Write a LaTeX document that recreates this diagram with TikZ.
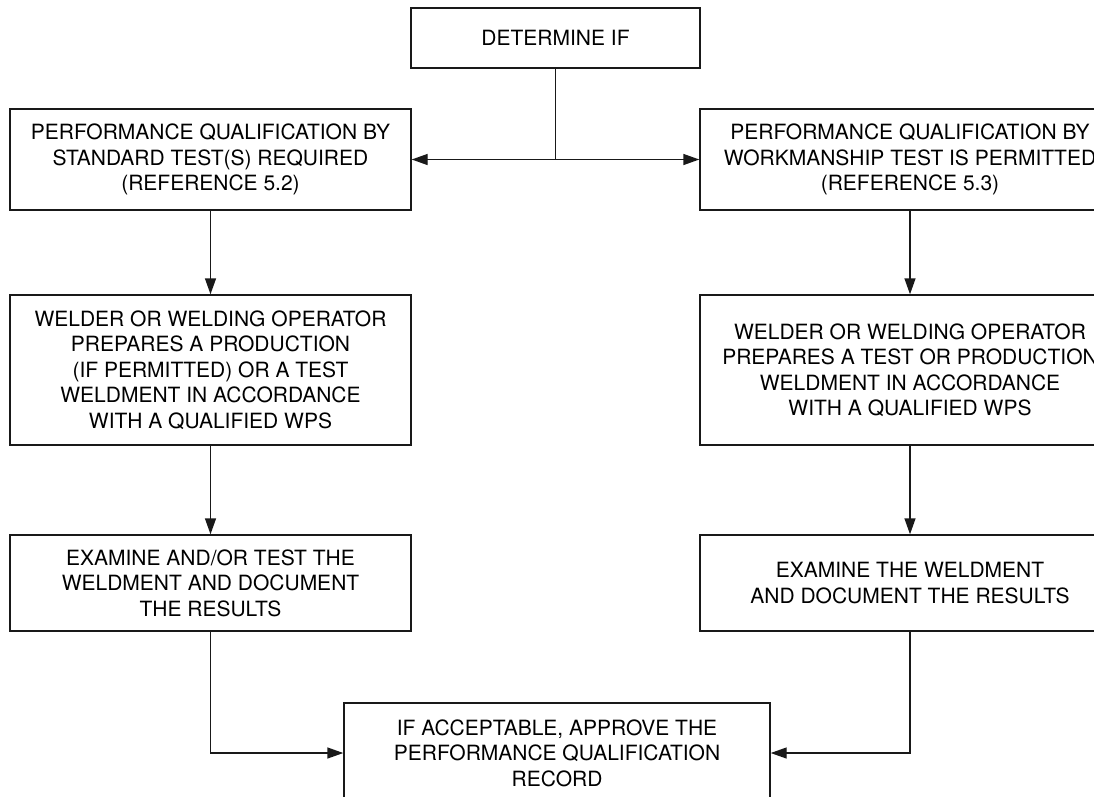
\documentclass[tikz,border=0pt]{standalone}
\usepackage{fontspec}
\setmainfont{TeX Gyre Heros}
\usetikzlibrary{arrows.meta}

\begin{document}
\begin{tikzpicture}[x=1pt, y=-1pt,
    procbox/.style={rectangle, draw=black!90, line width=1.4pt, fill=white, inner sep=0pt, align=center, font=\fontsize{21}{25.5}\selectfont},
    flow/.style={-{Triangle[length=16pt,width=11pt]}, line width=1.4pt, draw=black!90}]
            \useasboundingbox (0,0) rectangle (1094,796);
            \clip (0,0) rectangle (1094,796);

            \node[procbox, minimum width=289pt, minimum height=60pt] (det) at (555.5,38) {DETERMINE IF};
            \node[procbox, minimum width=401pt, minimum height=101pt] (stdtest) at (210.5,159.5) {PERFORMANCE QUALIFICATION BY\\STANDARD TEST(S) REQUIRED\\(REFERENCE 5.2)};
            \node[procbox, minimum width=420pt, minimum height=101pt] (wmtest) at (910,159.5) {PERFORMANCE QUALIFICATION BY\\WORKMANSHIP TEST IS PERMITTED\\(REFERENCE 5.3)};
            \node[procbox, minimum width=401pt, minimum height=150pt] (stdweld) at (210.5,370) {WELDER OR WELDING OPERATOR\\PREPARES A PRODUCTION\\(IF PERMITTED) OR A TEST\\WELDMENT IN ACCORDANCE\\WITH A QUALIFIED WPS};
            \node[procbox, minimum width=420pt, minimum height=150pt] (wmweld) at (910,370) {WELDER OR WELDING OPERATOR\\PREPARES A TEST OR PRODUCTION\\WELDMENT IN ACCORDANCE\\WITH A QUALIFIED WPS};
            \node[procbox, minimum width=401pt, minimum height=96pt] (stdexam) at (210.5,583) {EXAMINE AND/OR TEST THE\\WELDMENT AND DOCUMENT\\THE RESULTS};
            \node[procbox, minimum width=420pt, minimum height=96pt] (wmexam) at (910,583) {EXAMINE THE WELDMENT\\AND DOCUMENT THE RESULTS};
            \node[procbox, minimum width=426pt, minimum height=100pt] (approve) at (557,753) {IF ACCEPTABLE, APPROVE THE\\PERFORMANCE QUALIFICATION\\RECORD};

            \draw[line width=1.4pt, draw=black!90] (det.south) -- (det.south |- stdtest.east) coordinate (split);
            \draw[flow] (split) -- (stdtest.east);
            \draw[flow] (split) -- (wmtest.west);
            \draw[flow] (stdtest.south) -- (stdweld.north);
            \draw[flow] (wmtest.south) -- (wmweld.north);
            \draw[flow] (stdweld.south) -- (stdexam.north);
            \draw[flow] (wmweld.south) -- (wmexam.north);
            \draw[flow] (stdexam.south) |- (approve.west);
            \draw[flow] (wmexam.south) |- (approve.east);

        \end{tikzpicture}
\end{document}
